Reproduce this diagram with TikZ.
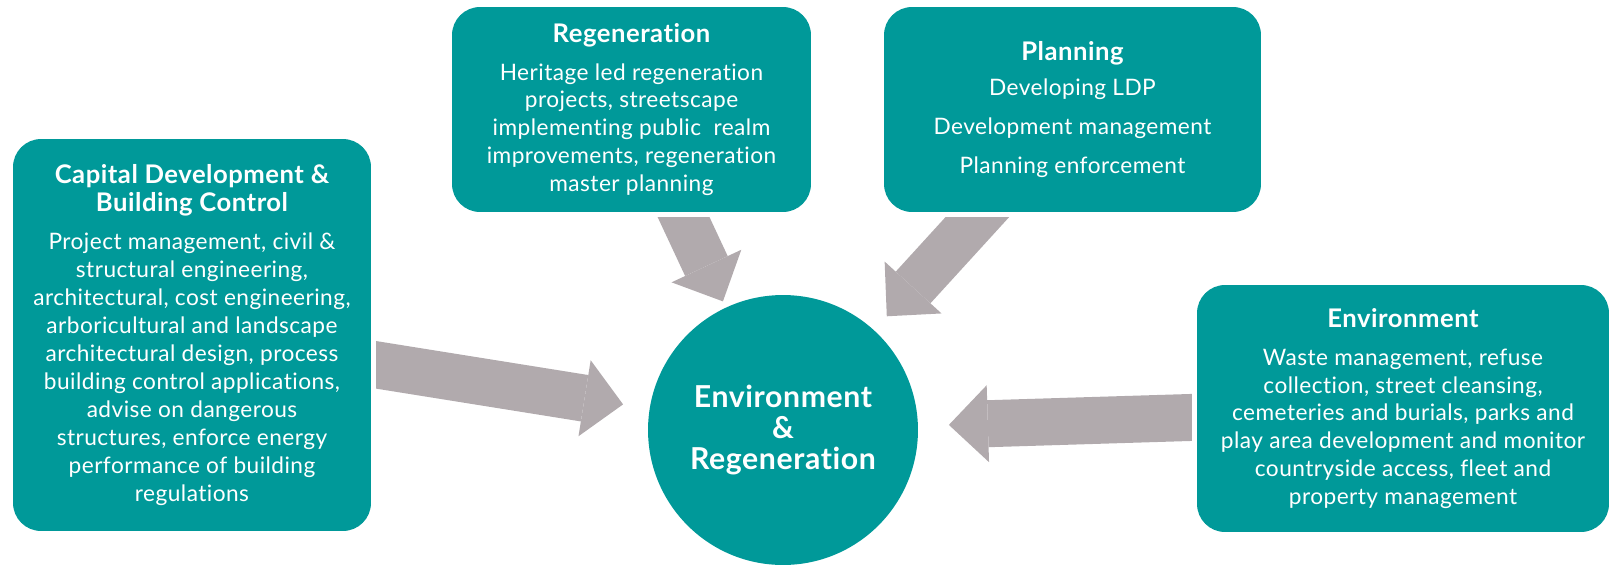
\documentclass[tikz,border=0pt]{standalone}
\usepackage{fontspec}
\setmainfont{Lato}[LetterSpace=2, Ligatures=NoCommon]
\usetikzlibrary{arrows.meta}
\usetikzlibrary{backgrounds}
\usetikzlibrary{calc}

\definecolor{unitteal}{RGB}{0,153,153}
\definecolor{feedgrey}{RGB}{177,170,173}

\newcommand{\unittitle}{\bfseries\fontsize{14.6}{15.9}\selectfont}

\tikzset{
  unit/.style={fill=unitteal, text=white, rounded corners=0.56cm, align=center,
    inner sep=0pt, outer sep=0pt, font=\fontsize{12.9}{15.9}\selectfont,
    preaction={draw=white, line width=0.2cm}},
  hub/.style={circle, fill=unitteal, text=white, minimum size=5.4cm, inner sep=0pt,
    outer sep=0pt, align=center, font=\bfseries\fontsize{17.2}{17.6}\selectfont},
  feed/.style={draw=feedgrey, line width=0.94cm,
    -{Triangle[length=0.78cm, width=1.54cm, line width=0pt]}}
}

\begin{document}
\begin{tikzpicture}[x=0.02cm, y=-0.02cm]
  \useasboundingbox (0,0) rectangle (1610,566);

  \node[hub] (hub) at (783,430) {Environment\\ \&\\ Regeneration};

  \node[unit, minimum width=7.16cm, minimum height=7.84cm] (capital) at (192,335)
    {\unittitle Capital Development \&\\ \unittitle Building Control\\[0.2cm]
     Project management, civil \&\\ structural engineering,\\
     architectural, cost engineering,\\ arboricultural and landscape\\
     architectural design, process\\ building control applications,\\
     advise on dangerous\\ structures, enforce energy\\
     performance of building\\ regulations};

  \node[unit, minimum width=7.18cm, minimum height=4.1cm] (regen) at (631.5,109.5)
    {\unittitle Regeneration\\[0.2cm]
     Heritage led regeneration\\ projects, streetscape\\
     implementing public~ realm\\ improvements, regeneration\\ master planning};

  \node[unit, minimum width=7.54cm, minimum height=4.1cm] (planning) at (1072.5,109.5)
    {\unittitle Planning\\[0.15cm]
     Developing LDP\\[0.22cm] Development management\\[0.22cm] Planning enforcement};

  \node[unit, minimum width=8.24cm, minimum height=4.94cm] (env) at (1403,408.5)
    {\unittitle Environment\\[0.2cm]
     Waste management, refuse\\ collection, street cleansing,\\
     cemeteries and burials, parks and\\ play area development and monitor\\
     countryside access, fleet and\\ property management};

  % feeds into the hub
  \begin{pgfonlayer}{background}
    \draw[feed, shorten >=0.54cm] ($(capital.east)+(-25,25)$) -- (hub);
    \draw[feed, shorten >=0.14cm] ($(regen.south)+(38,-25)$) -- (hub);
    \draw[feed, shorten >=0.38cm] ($(planning.south)+(-75,-17)$) -- (hub);
    \draw[feed, shorten >=0.62cm] ($(env.west)+(25,8)$) -- (hub);
  \end{pgfonlayer}
\end{tikzpicture}
\end{document}
